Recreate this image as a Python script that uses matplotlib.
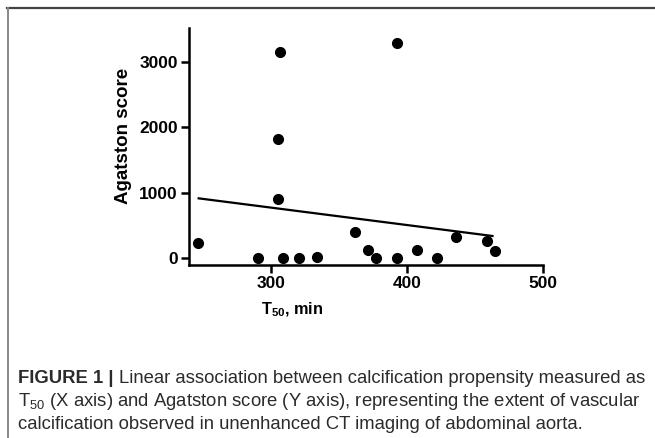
import matplotlib
matplotlib.use("Agg")
import matplotlib.pyplot as plt
import numpy as np

plt.rcParams['font.family'] = ['Liberation Sans', 'DejaVu Sans']
plt.rcParams['mathtext.default'] = 'regular'

# T50 (min) vs Agatston score
t50 = [246.6, 290.5, 307.1, 305.6, 305.6, 309.0, 321.0, 334.1, 362.0,
       371.7, 377.6, 392.7, 392.7, 407.8, 422.4, 436.1, 459.0, 465.1]
agatston = [224, 0, 3153, 1821, 903, 0, 0, 15, 403,
            128, 0, 3291, 0, 117, 0, 316, 265, 107]

# regression line ends
fit_x = [247.1, 462.9]
fit_y = [913, 337]

xticks = [300, 400, 500]
yticks = [0, 1000, 2000, 3000]

W, H = 655, 438
fig = plt.figure(figsize=(W / 100, H / 100), dpi=100)

ax = fig.add_axes([189 / W, 1 - 265 / H, (543 - 189) / W, (265 - 28) / H])
ax.plot(fit_x, fit_y, color='black', lw=1.6, zorder=2)
ax.plot(t50, agatston, 'o', color='black', ms=7, zorder=3)

ax.set_xlim(240, 500)
ax.set_ylim(-107, 3520)
ax.set_xticks(xticks)
ax.set_yticks(yticks)
for s in ['top', 'right']:
    ax.spines[s].set_visible(False)
for s in ['left', 'bottom']:
    ax.spines[s].set_linewidth(1.8)
ax.tick_params(width=1.8, length=6, labelsize=12.5, pad=2)
for lab in ax.get_xticklabels() + ax.get_yticklabels():
    lab.set_fontweight('bold')
ax.set_ylabel('Agatston score', fontsize=13.5, fontweight='bold')
ax.yaxis.set_label_coords(-0.161, 0.544)

fig.text(292 / W, 1 - 310 / H, 'T$_{50}$, min', fontsize=11.7, fontweight='bold',
         ha='center', va='center')

# frame lines of the figure panel
fig.add_artist(plt.Line2D([7 / W, 1], [1 - 8 / H, 1 - 8 / H], color='#444444', lw=1.6))
fig.add_artist(plt.Line2D([7.5 / W, 7.5 / W], [0, 1 - 8 / H], color='#888888', lw=1.4))

# caption
cap_col = '#2b2b2b'
cap_fs = 13.3
x0 = 18 / W
b1 = fig.text(x0, 1 - 383 / H, 'FIGURE 1 | ', fontsize=cap_fs, fontweight='bold',
              color=cap_col, va='baseline')
fig.canvas.draw()
bb = b1.get_window_extent()
fig.text(bb.x1 / W, 1 - 383 / H,
         'Linear association between calcification propensity measured as',
         fontsize=cap_fs, color=cap_col, va='baseline')
fig.text(x0, 1 - 406 / H,
         'T$_{50}$ (X axis) and Agatston score (Y axis), representing the extent of vascular',
         fontsize=cap_fs, color=cap_col, va='baseline')
fig.text(x0, 1 - 429 / H,
         'calcification observed in unenhanced CT imaging of abdominal aorta.',
         fontsize=cap_fs, color=cap_col, va='baseline')

fig.savefig('out.png', dpi=100)
